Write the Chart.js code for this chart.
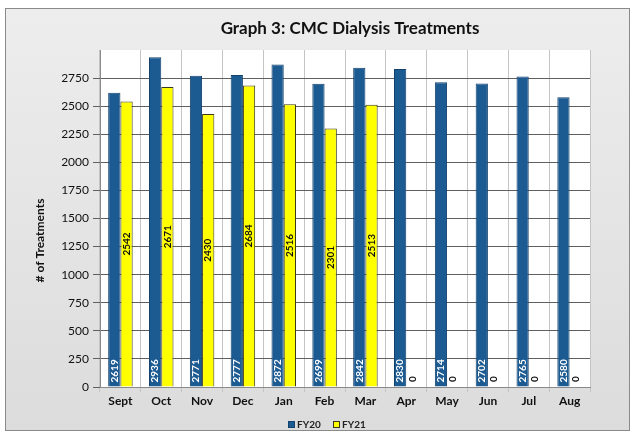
<!DOCTYPE html>
<html>
<head>
<meta charset="utf-8">
<script src="https://cdn.jsdelivr.net/npm/chart.js@4"></script>
<style>
  html, body { margin: 0; padding: 0; background: #ffffff; }
  #frame { position: absolute; left: 5px; top: 8px; width: 623px; height: 421px;
    border: 1px solid #8a8a8a; background: linear-gradient(180deg, #ededed 0%, #dcdcdc 100%); }
  #wrap { position: absolute; left: 0; top: 0; width: 633px; height: 436px; }
</style>
</head>
<body>
<div id="frame"></div>
<div id="wrap"><canvas id="c" width="633" height="436"></canvas></div>
<script>
const months = ['Sept', 'Oct', 'Nov', 'Dec', 'Jan', 'Feb', 'Mar', 'Apr', 'May', 'Jun', 'Jul', 'Aug'];
const fy20 = [2619, 2936, 2771, 2777, 2872, 2699, 2842, 2830, 2714, 2702, 2765, 2580];
const fy21 = [2542, 2671, 2430, 2684, 2516, 2301, 2513, 0, 0, 0, 0, 0];
const yTicks = [0, 250, 500, 750, 1000, 1250, 1500, 1750, 2000, 2250, 2500, 2750];
const chartTitle = 'Graph 3: CMC Dialysis Treatments';
const yTitle = '# of Treatments';

const FONT = 'Lato, "Open Sans", sans-serif';

const plotBg = {
  id: 'plotBg',
  beforeDraw(chart) {
    const a = chart.chartArea, ctx = chart.ctx;
    ctx.save();
    ctx.fillStyle = '#ffffff';
    ctx.fillRect(a.left, a.top, a.right - a.left, a.bottom - a.top);
    ctx.restore();
  }
};

const texts = {
  id: 'texts',
  afterDraw(chart) {
    const a = chart.chartArea, ctx = chart.ctx;
    ctx.save();
    // chart title
    ctx.font = 'bold 17px ' + FONT;
    ctx.fillStyle = '#111111';
    ctx.textAlign = 'center';
    ctx.textBaseline = 'middle';
    ctx.fillText(chartTitle, 350, 29);
    // y axis title
    ctx.font = 'bold 12px ' + FONT;
    ctx.save();
    ctx.translate(40, (a.top + a.bottom) / 2 + 22);
    ctx.rotate(-Math.PI / 2);
    ctx.fillText(yTitle, 0, 0);
    ctx.restore();
    // legend
    ctx.font = 'bold 10px ' + FONT;
    ctx.textAlign = 'left';
    const starts = [288, 333];
    chart.data.datasets.forEach((ds, i) => {
      const x = starts[i];
      ctx.fillStyle = ds.backgroundColor;
      ctx.fillRect(x, 421, 7, 7);
      ctx.strokeStyle = ds.borderColor;
      ctx.lineWidth = 1;
      ctx.strokeRect(x + 0.5, 421.5, 6, 6);
      ctx.fillStyle = '#222222';
      ctx.fillText(ds.label, x + 9, 425);
    });
    ctx.restore();
  }
};

const barLabels = {
  id: 'barLabels',
  afterDatasetsDraw(chart) {
    const ctx = chart.ctx;
    chart.data.datasets.forEach((ds, di) => {
      const meta = chart.getDatasetMeta(di);
      meta.data.forEach((bar, i) => {
        const v = ds.data[i];
        const p = bar.getProps(['x', 'y', 'base'], true);
        ctx.save();
        ctx.font = 'bold 10px ' + FONT;
        ctx.textBaseline = 'middle';
        if (di === 0) {
          ctx.fillStyle = '#ffffff';
          ctx.translate(p.x, p.base - 4);
          ctx.rotate(-Math.PI / 2);
          ctx.textAlign = 'left';
          ctx.fillText(String(v), 0, 0);
        } else if (v === 0) {
          ctx.fillStyle = '#111111';
          ctx.translate(p.x, p.base - 5);
          ctx.rotate(-Math.PI / 2);
          ctx.textAlign = 'left';
          ctx.fillText('0', 0, 0);
        } else {
          ctx.fillStyle = '#111111';
          ctx.translate(p.x, (p.y + p.base) / 2);
          ctx.rotate(-Math.PI / 2);
          ctx.textAlign = 'center';
          ctx.fillText(String(v), 0, 0);
        }
        ctx.restore();
      });
    });
  }
};

new Chart(document.getElementById('c'), {
  type: 'bar',
  data: {
    labels: months,
    datasets: [
      { label: 'FY20', data: fy20, backgroundColor: '#1c5a92', borderColor: '#12416d', borderWidth: 1 },
      { label: 'FY21', data: fy21, backgroundColor: '#ffff00', borderColor: '#3a3a1a', borderWidth: 1 }
    ]
  },
  options: {
    responsive: false,
    animation: false,
    devicePixelRatio: 1,
    layout: { padding: { left: 28, right: 43, top: 50, bottom: 25 } },
    datasets: { bar: { categoryPercentage: 0.6, barPercentage: 1.0 } },
    plugins: {
      title: { display: false },
      legend: { display: false },
      tooltip: { enabled: false }
    },
    scales: {
      x: {
        grid: { color: '#c4c4c4', lineWidth: 1, tickLength: 5, offset: true },
        border: { color: '#8a8a8a' },
        ticks: { color: '#111111', font: { family: FONT, size: 12, weight: 'bold' }, padding: 2, maxRotation: 0 },
        afterFit(s) { s.height = 24; }
      },
      y: {
        min: 0, max: 3000,
        afterBuildTicks(s) { s.ticks = yTicks.map(v => ({ value: v })); },
        grid: { color: '#606060', lineWidth: 1, tickLength: 7 },
        border: { color: '#8a8a8a' },
        ticks: { color: '#111111', font: { family: FONT, size: 12 }, padding: 4,
          callback: (v) => String(v) },
        afterFit(s) { s.width = 72; }
      }
    }
  },
  plugins: [plotBg, barLabels, texts]
});
</script>
</body>
</html>
